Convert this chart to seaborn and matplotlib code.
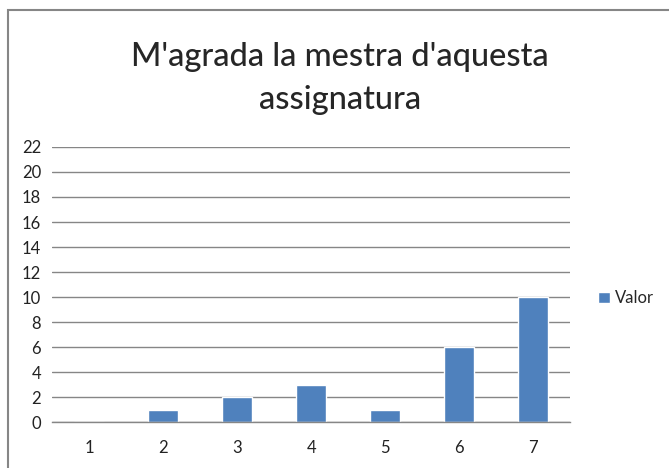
import matplotlib.pyplot as plt
import seaborn as sns
import pandas as pd
from matplotlib.patches import Rectangle

categories = ['1', '2', '3', '4', '5', '6', '7']
valor = [0, 1, 2, 3, 1, 6, 10]
y_ticks = list(range(0, 24, 2))

df = pd.DataFrame({'cat': categories, 'Valor': valor})

sns.set_style('white')
plt.rcParams['font.family'] = ['Lato', 'DejaVu Sans']

fig = plt.figure(figsize=(6.69, 4.68), dpi=100)
ax = fig.add_axes([0.078, 0.098, 0.774, 0.588])

sns.barplot(x='cat', y='Valor', data=df, color='#4F81BD', width=0.4,
            saturation=1, ax=ax, label='Valor')

ax.set_ylim(0, 22)
ax.set_xlim(-0.5, 6.5)
ax.set_yticks(y_ticks)
ax.yaxis.grid(True, color='#868686', linewidth=1)
ax.set_axisbelow(True)
ax.set_xlabel('')
ax.set_ylabel('')

for s in ['left', 'top', 'right']:
    ax.spines[s].set_visible(False)
ax.spines['bottom'].set_color('#868686')
ax.spines['bottom'].set_linewidth(1)

ax.tick_params(axis='y', length=0, labelsize=12, pad=8, labelcolor='#222222')
ax.tick_params(axis='x', which='major', length=0, labelsize=12, pad=13,
               labelcolor='#222222')
ax.set_xticks([i - 0.5 for i in range(8)], minor=True)
ax.tick_params(axis='x', which='minor', length=6, color='#868686', width=1)

ax.legend(loc='center left', bbox_to_anchor=(1.025, 0.45), frameon=False,
          fontsize=12, handlelength=0.7, handleheight=0.7, handletextpad=0.3)

fig.suptitle("M'agrada la mestra d'aquesta\nassignatura", fontsize=23.5,
             x=0.508, y=0.91, linespacing=1.55, fontweight='medium')

fig.patches.append(Rectangle((0.012, -0.1), 1.2, 1.1 - 10 / 468, transform=fig.transFigure,
                             fill=False, edgecolor='#868686', linewidth=1.5))

fig.savefig('out.png', dpi=100)
